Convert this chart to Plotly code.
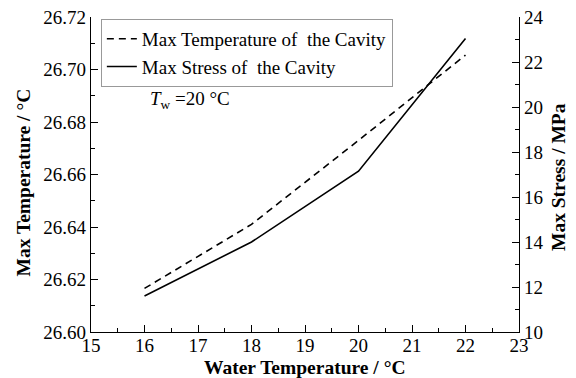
import plotly.graph_objects as go

water_temp = [16, 18, 20, 22]
max_temperature = [26.6166, 26.641, 26.673, 26.7055]
max_stress = [11.6, 14.0, 17.15, 23.05]

x_ticks = [15, 16, 17, 18, 19, 20, 21, 22, 23]
y1_ticks = [26.60, 26.62, 26.64, 26.66, 26.68, 26.70, 26.72]
y2_ticks = [10, 12, 14, 16, 18, 20, 22, 24]

FONT = "Liberation Serif, Times New Roman, serif"
W, H = 576, 378
L, R, T, B = 91, 57, 17, 46
PW, PH = W - L - R, H - T - B

fig = go.Figure()
fig.add_trace(go.Scatter(
    x=water_temp, y=max_temperature, mode="lines",
    name="Max Temperature of  the Cavity",
    line=dict(color="black", width=1.6, dash="7px,5px"),
    yaxis="y",
))
fig.add_trace(go.Scatter(
    x=water_temp, y=max_stress, mode="lines",
    name="Max Stress of  the Cavity",
    line=dict(color="black", width=1.6),
    yaxis="y2",
))

axis_common = dict(
    showgrid=False, zeroline=False, showline=True, linecolor="black", linewidth=1.3,
    ticks="inside", ticklen=7, tickwidth=1.2, tickcolor="black", automargin=False,
    tickfont=dict(family=FONT, size=19, color="black"),
)

fig.update_layout(
    width=W, height=H,
    margin=dict(l=L, r=R, t=T, b=B),
    paper_bgcolor="white", plot_bgcolor="white",
    font=dict(family=FONT, size=19, color="black"),
    showlegend=True,
    legend=dict(
        x=0.023, y=0.994, xanchor="left", yanchor="top",
        bordercolor="#999999", borderwidth=1, bgcolor="white",
        font=dict(family=FONT, size=19, color="black"),
        tracegroupgap=0, itemwidth=30,
    ),
    xaxis=dict(
        **axis_common, range=[15, 23], tickvals=x_ticks,
        ticktext=[str(v) for v in x_ticks], ticklabelstandoff=-4,
        minor=dict(ticks="inside", ticklen=4, dtick=0.5, tickcolor="black", tickwidth=1.2),
    ),
    yaxis=dict(
        **axis_common, range=[26.60, 26.72], tickvals=y1_ticks,
        ticktext=[f"{v:.2f}" for v in y1_ticks],
        minor=dict(ticks="inside", ticklen=4, dtick=0.01, tickcolor="black", tickwidth=1.2),
    ),
    yaxis2=dict(
        **axis_common, range=[10, 24], tickvals=y2_ticks,
        ticktext=[str(v) for v in y2_ticks],
        minor=dict(ticks="inside", ticklen=4, dtick=1, tickcolor="black", tickwidth=1.2),
        overlaying="y", side="right",
    ),
)


def px_to_paper(px, py):
    return (px - L) / PW, (H - B - py) / PH


titles = [
    ("<b>Water Temperature / °C</b>", 305, 367, 0),
    ("<b>Max Temperature / °C</b>", 22.5, 183, -90),
    ("<b>Max Stress / MPa</b>", 558, 177, -90),
]
for text, px, py, ang in titles:
    xp, yp = px_to_paper(px, py)
    fig.add_annotation(
        xref="paper", yref="paper", x=xp, y=yp, xanchor="center", yanchor="middle",
        showarrow=False, text=text, textangle=ang,
        font=dict(family=FONT, size=19.5, color="black"),
    )

xp, yp = px_to_paper(148, 100)
fig.add_annotation(
    xref="paper", yref="paper", x=xp, y=yp,
    xanchor="left", yanchor="middle", showarrow=False,
    text="<i>T</i><sub>w</sub> =20 °C", font=dict(family=FONT, size=19, color="black"),
)

fig.write_html("out.html")
